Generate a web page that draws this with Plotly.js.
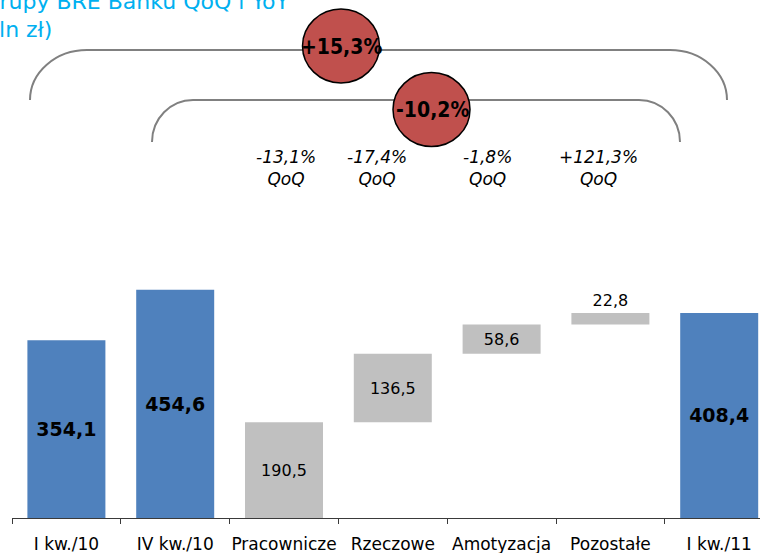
<!DOCTYPE html>
<html>
<head>
<meta charset="utf-8">
<script src="https://cdn.plot.ly/plotly-3.0.1.min.js"></script>
<style>
  html, body { margin: 0; padding: 0; background: #ffffff; }
  #chart { width: 760px; height: 553px; }
</style>
</head>
<body>
<div id="chart"></div>
<script>
// Category order along the x axis
const categories = ['I kw./10', 'IV kw./10', 'Pracownicze', 'Rzeczowe', 'Amotyzacja', 'Pozostałe', 'I kw./11'];

// Quarterly totals (mln zł)
const totalCats = ['I kw./10', 'IV kw./10', 'I kw./11'];
const totalValues = [354.1, 454.6, 408.4];

// Cost components of I kw./11 (mln zł), stacked as a waterfall
const costCats = ['Pracownicze', 'Rzeczowe', 'Amotyzacja', 'Pozostałe'];
const costValues = [190.5, 136.5, 58.6, 22.8];
const costQoQ = ['-13,1%', '-17,4%', '-1,8%', '+121,3%'];

// Overall changes
const yoyChange = '+15,3%';
const qoqChange = '-10,2%';

const titleLines = ['Koszty Grupy BRE Banku QoQ i YoY', '(mln zł)'];

// ---- layout helpers (pixel -> paper coordinates) ----
const W = 760, H = 553;
const M = { l: 12, r: 0, t: 0, b: 35 };
const plotW = W - M.l - M.r, plotH = H - M.t - M.b;
const px = x => (x - M.l) / plotW;
const py = y => (H - M.b - y) / plotH;

const fmt = v => v.toFixed(1).replace('.', ',');

// waterfall bases for the cost components
const costBases = [];
let acc = 0;
costValues.forEach(v => { costBases.push(acc); acc += v; });

const FONT = 'DejaVu Sans, Verdana, sans-serif';
const BOLD_NARROW = 'DejaVu Sans Condensed, DejaVu Sans, sans-serif';

const traces = [
  {
    type: 'bar',
    x: totalCats,
    y: totalValues,
    marker: { color: '#4F81BD', line: { width: 0 } },
    text: totalValues.map(fmt),
    textposition: 'inside',
    insidetextanchor: 'middle',
    constraintext: 'none',
    textangle: 0,
    textfont: { family: FONT, size: 19, color: '#000000', weight: 'bold' },
    hoverinfo: 'skip'
  },
  {
    type: 'bar',
    x: costCats,
    y: costValues,
    base: costBases,
    marker: { color: '#C0C0C0', line: { width: 0 } },
    text: costValues.map(fmt),
    textposition: ['inside', 'inside', 'inside', 'outside'],
    insidetextanchor: 'middle',
    constraintext: 'none',
    textangle: 0,
    cliponaxis: false,
    textfont: { family: FONT, size: 16, color: '#000000' },
    hoverinfo: 'skip'
  }
];

// ---- braces grouping the changes ----
function brace(xl, xr, yTop, yEnd, r) {
  const k = 0.552;
  const ry = yEnd - yTop;
  const pts = [
    'M', px(xl), py(yEnd),
    'C', px(xl), py(yEnd - k * ry), px(xl + r - k * r), py(yTop), px(xl + r), py(yTop),
    'L', px(xr - r), py(yTop),
    'C', px(xr - r + k * r), py(yTop), px(xr), py(yEnd - k * ry), px(xr), py(yEnd)
  ];
  return {
    type: 'path', xref: 'paper', yref: 'paper',
    path: pts.join(' ').replace(/ (-?[\d.]+) (-?[\d.]+)/g, ' $1,$2'),
    line: { color: '#808080', width: 2 }
  };
}

function bubble(cx, cy, rx, ry) {
  return {
    type: 'circle', xref: 'paper', yref: 'paper',
    x0: px(cx - rx), x1: px(cx + rx), y0: py(cy + ry), y1: py(cy - ry),
    fillcolor: '#C0504D',
    line: { color: '#000000', width: 1.5 }
  };
}

const shapes = [
  brace(30, 727, 50, 100, 57),
  brace(152, 680, 100, 142, 41),
  bubble(341, 46, 38.5, 37),
  bubble(431.5, 109.5, 38.5, 37)
];

const annotations = [
  {
    xref: 'paper', yref: 'paper', x: px(291), y: py(2), xanchor: 'right', yanchor: 'middle',
    text: titleLines[0], showarrow: false,
    font: { family: FONT, size: 22, color: '#00B0F0' }
  },
  {
    xref: 'paper', yref: 'paper', x: px(54), y: py(29), xanchor: 'right', yanchor: 'middle',
    text: titleLines[1], showarrow: false,
    font: { family: FONT, size: 22, color: '#00B0F0' }
  },
  {
    xref: 'paper', yref: 'paper', x: px(341), y: py(47), xanchor: 'center', yanchor: 'middle',
    text: yoyChange, showarrow: false,
    font: { family: BOLD_NARROW, size: 21, color: '#000000', weight: 'bold' }
  },
  {
    xref: 'paper', yref: 'paper', x: px(432), y: py(110), xanchor: 'center', yanchor: 'middle',
    text: qoqChange, showarrow: false,
    font: { family: BOLD_NARROW, size: 21, color: '#000000', weight: 'bold' }
  }
];

const qoqX = [286, 377, 487, 598];
costQoQ.forEach((t, i) => {
  annotations.push({
    xref: 'paper', yref: 'paper', x: px(qoqX[i]), y: py(168), xanchor: 'center', yanchor: 'middle',
    text: '<i>' + t + '</i><br><i>QoQ</i>', showarrow: false, align: 'center',
    font: { family: FONT, size: 17, color: '#000000' }
  });
});

const layout = {
  width: W, height: H,
  margin: M,
  paper_bgcolor: '#ffffff',
  plot_bgcolor: '#ffffff',
  showlegend: false,
  barmode: 'overlay',
  bargap: 0.283,
  hovermode: false,
  xaxis: {
    type: 'category',
    categoryorder: 'array',
    categoryarray: categories,
    range: [-0.5, -0.5 + plotW / 108.8],
    showline: true,
    linecolor: '#3a3a3a',
    linewidth: 1,
    ticks: 'outside',
    tickson: 'boundaries',
    ticklen: 5,
    tickcolor: '#3a3a3a',
    tickwidth: 1,
    tickangle: 0,
    ticklabelstandoff: 11,
    showgrid: false,
    zeroline: false,
    tickfont: { family: FONT, size: 17, color: '#000000' },
    fixedrange: true
  },
  yaxis: {
    range: [0, plotH / 0.502],
    visible: false,
    showgrid: false,
    zeroline: false,
    fixedrange: true
  },
  shapes: shapes,
  annotations: annotations
};

Plotly.newPlot('chart', traces, layout, { displayModeBar: false, staticPlot: true });
</script>
</body>
</html>
